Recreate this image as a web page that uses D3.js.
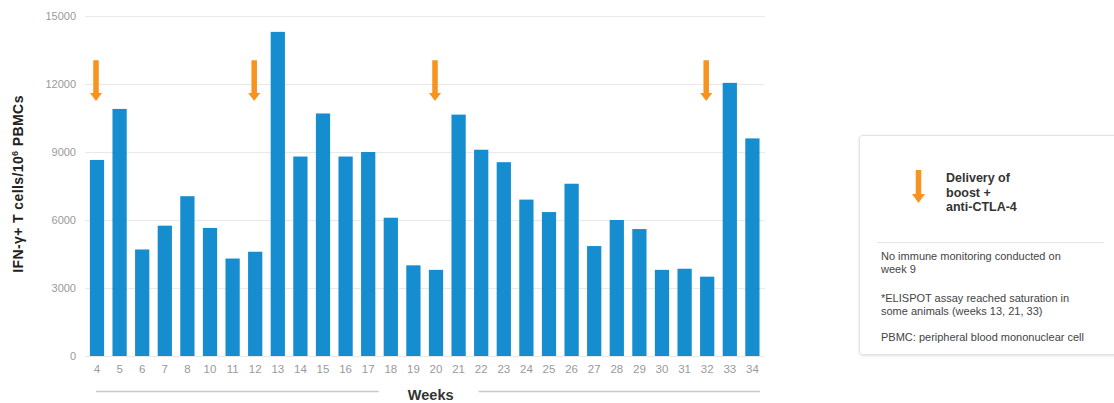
<!DOCTYPE html>
<html>
<head>
<meta charset="utf-8">
<script src="https://cdn.jsdelivr.net/npm/d3@7"></script>
<style>
  html, body { margin: 0; padding: 0; background: #fff; }
  svg { display: block; }
</style>
</head>
<body>
<svg id="chart" width="1114" height="403"></svg>
<script>
// Weekly IFN-γ ELISPOT counts (spots per 10^6 PBMCs)
const weeks = ["4","5","6","7","8","10","11","12","13","14","15","16","17","18","19",
               "20","21","22","23","24","25","26","27","28","29","30","31","32","33","34"];
const spots = [8650,10900,4700,5750,7050,5650,4300,4600,14300,8800,10700,8800,9000,6100,4000,
               3800,10650,9100,8550,6900,6350,7600,4850,6000,5600,3800,3850,3500,12050,9600];
// Weeks at which boost + anti-CTLA-4 was given
const boostWeeks = ["4","12","20","32"];
const yTicks = [0, 3000, 6000, 9000, 12000, 15000];
const legendTitle = ["Delivery of", "boost +", "anti-CTLA-4"];
const legendNotes = [
  ["No immune monitoring conducted on", "week 9"],
  ["*ELISPOT assay reached saturation in", "some animals (weeks 13, 21, 33)"],
  ["PBMC: peripheral blood mononuclear cell"]
];

const BLUE = "#158dcf";
const ORANGE = "#f7941f";
const sans = "'Liberation Sans', Arial, sans-serif";
const narrow = "'Liberation Sans Narrow', 'Liberation Sans', Arial, sans-serif";

const svg = d3.select("#chart");

const x = d3.scaleBand().domain(weeks).range([85.7, 763.7])
  .paddingInner(0.37).paddingOuter(0.185);
const y = d3.scaleLinear().domain([0, 15000]).range([356, 16]);

// horizontal gridlines
svg.append("g").selectAll("line").data(yTicks).join("line")
  .attr("x1", 85).attr("x2", 765)
  .attr("y1", d => y(d) + 0.5).attr("y2", d => y(d) + 0.5)
  .attr("stroke", "#e9e9e9").attr("stroke-width", 1);

// y axis labels
const yAxis = svg.append("g").attr("transform", "translate(76,0)")
  .call(d3.axisLeft(y).tickValues(yTicks).tickSize(0).tickPadding(0).tickFormat(d3.format("d")));
yAxis.select(".domain").remove();
yAxis.selectAll("text").attr("fill", "#9a9a9a").attr("font-family", narrow).attr("font-size", 11);

// bars
svg.append("g").selectAll("rect").data(weeks).join("rect")
  .attr("x", d => x(d))
  .attr("width", x.bandwidth())
  .attr("y", (d, i) => y(spots[i]))
  .attr("height", (d, i) => y(0) - y(spots[i]))
  .attr("fill", BLUE);

// x axis labels
const xAxis = svg.append("g").attr("transform", "translate(0,362)")
  .call(d3.axisBottom(x).tickSize(0).tickPadding(3));
xAxis.select(".domain").remove();
xAxis.selectAll("text").attr("fill", "#9a9a9a").attr("font-family", narrow).attr("font-size", 11.5);

// down arrow: shaft + head, drawn from top (ty) to tip (by) centred on cx
function arrowPath(cx, ty, by, shaftW, headW, headH) {
  const s = shaftW / 2, h = headW / 2, hy = by - headH;
  return `M${cx - s},${ty}L${cx + s},${ty}L${cx + s},${hy}L${cx + h},${hy}L${cx},${by}` +
         `L${cx - h},${hy}L${cx - s},${hy}Z`;
}

svg.append("g").selectAll("path").data(boostWeeks).join("path")
  .attr("d", d => arrowPath(x(d) + x.bandwidth() / 2 - 1, y(13050), y(11250), 5.5, 12, 8))
  .attr("fill", ORANGE);

// y axis title
svg.append("text")
  .attr("transform", "translate(23,184) rotate(-90)")
  .attr("text-anchor", "middle")
  .attr("font-family", sans).attr("font-weight", "bold").attr("font-size", 14)
  .attr("letter-spacing", 0.4)
  .attr("fill", "#222")
  .call(t => {
    t.append("tspan").text("IFN-γ+ T cells/10");
    t.append("tspan").attr("dy", -5).attr("font-size", 9).text("6");
    t.append("tspan").attr("dy", 5).text(" PBMCs");
  });

// x axis title with flanking rules
const xMid = (x.range()[0] + x.range()[1]) / 2 + 6;
svg.append("line").attr("x1", 96).attr("x2", xMid - 52).attr("y1", 391.5).attr("y2", 391.5)
  .attr("stroke", "#c8c8c8").attr("stroke-width", 1.5);
svg.append("line").attr("x1", xMid + 48).attr("x2", 760).attr("y1", 391.5).attr("y2", 391.5)
  .attr("stroke", "#c8c8c8").attr("stroke-width", 1.5);
svg.append("text").attr("x", xMid).attr("y", 400)
  .attr("text-anchor", "middle")
  .attr("font-family", sans).attr("font-weight", "bold").attr("font-size", 14.5)
  .attr("fill", "#333").text("Weeks");

// legend panel
const defs = svg.append("defs");
const f = defs.append("filter").attr("id", "shadow").attr("x", "-5%").attr("y", "-5%")
  .attr("width", "115%").attr("height", "115%");
f.append("feDropShadow").attr("dx", 0).attr("dy", 1).attr("stdDeviation", 1.5)
  .attr("flood-color", "#000").attr("flood-opacity", 0.12);

const lg = svg.append("g");
lg.append("rect").attr("x", 859.5).attr("y", 135.5).attr("width", 270).attr("height", 219)
  .attr("rx", 3).attr("fill", "#fff").attr("stroke", "#e2e2e2").attr("filter", "url(#shadow)");

lg.append("path").attr("d", arrowPath(918.5, 170, 203, 5.5, 13, 9)).attr("fill", ORANGE);

lg.append("g").selectAll("text").data(legendTitle).join("text")
  .attr("x", 946).attr("y", (d, i) => 182 + i * 14.5)
  .attr("font-family", sans).attr("font-weight", "bold").attr("font-size", 12.5)
  .attr("fill", "#333").text(d => d);

lg.append("line").attr("x1", 877).attr("x2", 1104).attr("y1", 242.5).attr("y2", 242.5)
  .attr("stroke", "#e4e4e4");

const noteY = [260, 302, 341];
legendNotes.forEach((lines, k) => {
  lg.append("g").selectAll("text").data(lines).join("text")
    .attr("x", 881).attr("y", (d, i) => noteY[k] + i * 13)
    .attr("font-family", sans).attr("font-size", 11)
    .attr("fill", "#444").text(d => d);
});
</script>
</body>
</html>
